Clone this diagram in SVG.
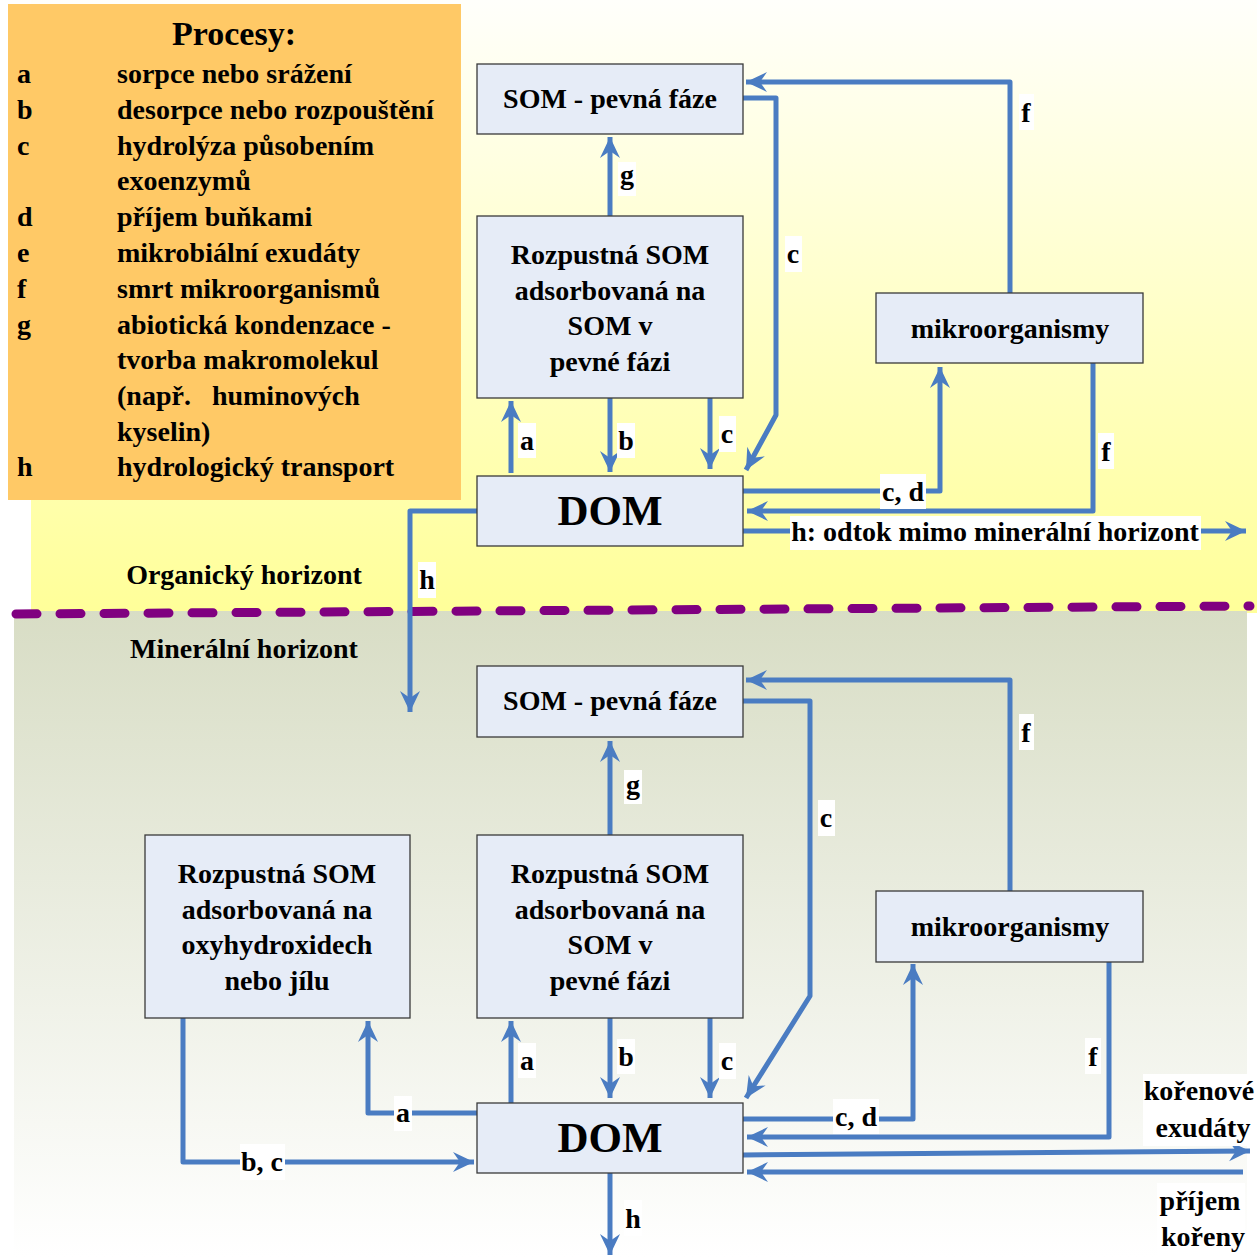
<svg xmlns="http://www.w3.org/2000/svg" width="1257" height="1257" viewBox="0 0 1257 1257">
  <defs>
    <linearGradient id="organic" x1="0" y1="0" x2="0" y2="1">
      <stop offset="0" stop-color="#FFFFFB"/>
      <stop offset="0.55" stop-color="#FFFFC4"/>
      <stop offset="1" stop-color="#FFFF99"/>
    </linearGradient>
    <linearGradient id="mineral" x1="0" y1="0" x2="0" y2="1">
      <stop offset="0" stop-color="#D8DDC5"/>
      <stop offset="1" stop-color="#FFFFFF"/>
    </linearGradient>
    <marker id="arr" markerUnits="userSpaceOnUse" markerWidth="24" markerHeight="24" viewBox="-22 -12 24 24" refX="0" refY="0" orient="auto">
      <path d="M0,0 L-21,-10 L-14,0 L-21,10 Z" fill="#4A7CC2"/>
    </marker>
    <style>
      text { font-family: "Liberation Serif", "Times New Roman", serif; font-weight: bold; fill: #000; }
      .node rect { fill: #E6ECF7; stroke: #3A3A3A; stroke-width: 1.3; }
      .nt { font-size: 28px; text-anchor: middle; }
      .big { font-size: 43px; text-anchor: middle; }
      .conn path { fill: none; stroke: #4A7CC2; stroke-width: 5; stroke-linejoin: round; }
      .conn .arrow { marker-end: url(#arr); }
      .lbl rect { fill: #FFFFFF; }
      .lbl text { font-size: 28px; text-anchor: middle; }
      .leg { font-size: 28px; }
      .hz { font-size: 28px; text-anchor: middle; }
    </style>
  </defs>

  <!-- horizon backgrounds -->
  <rect x="31" y="0" width="1226" height="613" fill="url(#organic)"/>
  <rect x="14" y="611" width="1233" height="646" fill="url(#mineral)"/>

  <!-- boundary between horizons -->
  <path d="M16,614 L1250,606" fill="none" stroke="#800080" stroke-width="9" stroke-linecap="round" stroke-dasharray="21 23"/>

  <text class="hz" x="244" y="584">Organický horizont</text>
  <text class="hz" x="244" y="658">Minerální horizont</text>

  <!-- process legend -->
  <g id="legend">
    <rect x="8" y="4" width="453" height="496" fill="#FFC966"/>
    <text x="234" y="45" font-size="34" text-anchor="middle">Procesy:</text>
    <g class="leg">
      <text x="17" y="83">a</text><text x="117" y="83">sorpce nebo srážení</text>
      <text x="17" y="119">b</text><text x="117" y="119">desorpce nebo rozpouštění</text>
      <text x="17" y="155">c</text><text x="117" y="155">hydrolýza působením</text>
      <text x="117" y="190">exoenzymů</text>
      <text x="17" y="226">d</text><text x="117" y="226">příjem buňkami</text>
      <text x="17" y="262">e</text><text x="117" y="262">mikrobiální exudáty</text>
      <text x="17" y="298">f</text><text x="117" y="298">smrt mikroorganismů</text>
      <text x="17" y="334">g</text><text x="117" y="334">abiotická kondenzace -</text>
      <text x="117" y="369">tvorba makromolekul</text>
      <text x="117" y="405" xml:space="preserve">(např.   huminových</text>
      <text x="117" y="441">kyselin)</text>
      <text x="17" y="476">h</text><text x="117" y="476">hydrologický transport</text>
    </g>
  </g>

  <!-- connectors -->
  <g id="connectors" class="conn">
    <!-- organic horizon -->
    <path class="arrow" d="M610,216 V137"/>
    <path class="arrow" d="M511,473 V401"/>
    <path class="arrow" d="M610,398 V472"/>
    <path class="arrow" d="M710,398 V469"/>
    <path class="arrow" d="M743,98 H776 V415 L746,470"/>
    <path class="arrow" d="M1010,293 V82 H746"/>
    <path class="arrow" d="M743,491 H940 V367"/>
    <path class="arrow" d="M1093,363 V511 H747"/>
    <path class="arrow" d="M743,531 H1246"/>
    <path class="arrow" d="M477,511 H410 V712"/>
    <!-- mineral horizon -->
    <path class="arrow" d="M610,835 V741"/>
    <path class="arrow" d="M743,701 H810 V996 L746,1098"/>
    <path class="arrow" d="M1010,891 V680 H746"/>
    <path class="arrow" d="M511,1103 V1021"/>
    <path class="arrow" d="M610,1018 V1098"/>
    <path class="arrow" d="M710,1018 V1098"/>
    <path class="arrow" d="M743,1119 H913 V964"/>
    <path class="arrow" d="M1109,962 V1137 H747"/>
    <path class="arrow" d="M743,1155 L1250,1151"/>
    <path class="arrow" d="M1243,1172 H747"/>
    <path class="arrow" d="M610,1173 V1255"/>
    <path class="arrow" d="M477,1113 H368 V1021"/>
    <path class="arrow" d="M183,1018 V1162 H474"/>
  </g>

  <!-- connector labels -->
  <g id="labels" class="lbl">
    <rect x="618" y="162" width="18" height="34"/><text x="627" y="184">g</text>
    <rect x="518" y="423" width="18" height="35"/><text x="527" y="450">a</text>
    <rect x="617" y="423" width="18" height="35"/><text x="626" y="450">b</text>
    <rect x="719" y="416" width="17" height="36"/><text x="727" y="443">c</text>
    <rect x="785" y="236" width="17" height="36"/><text x="793" y="263">c</text>
    <rect x="1019" y="94" width="15" height="36"/><text x="1026" y="122">f</text>
    <rect x="880" y="474" width="46" height="35"/><text x="903" y="501">c, d</text>
    <rect x="1098" y="433" width="16" height="36"/><text x="1106" y="461">f</text>
    <rect x="790" y="516" width="411" height="34"/><text x="995" y="541">h: odtok mimo minerální horizont</text>
    <rect x="418" y="562" width="18" height="36"/><text x="427" y="589">h</text>

    <rect x="624" y="770" width="18" height="34"/><text x="633" y="794">g</text>
    <rect x="818" y="800" width="17" height="36"/><text x="826" y="827">c</text>
    <rect x="1019" y="714" width="15" height="36"/><text x="1026" y="742">f</text>
    <rect x="518" y="1043" width="18" height="35"/><text x="527" y="1070">a</text>
    <rect x="617" y="1039" width="18" height="35"/><text x="626" y="1066">b</text>
    <rect x="719" y="1043" width="17" height="36"/><text x="727" y="1070">c</text>
    <rect x="833" y="1099" width="46" height="35"/><text x="856" y="1126">c, d</text>
    <rect x="1085" y="1038" width="16" height="36"/><text x="1093" y="1066">f</text>
    <rect x="394" y="1096" width="18" height="35"/><text x="403" y="1122">a</text>
    <rect x="240" y="1144" width="45" height="36"/><text x="262" y="1171">b, c</text>
    <rect x="624" y="1200" width="18" height="36"/><text x="633" y="1228">h</text>
    <rect x="1143" y="1074" width="114" height="72"/>
    <text x="1199" y="1100">kořenové</text>
    <text x="1203" y="1137">exudáty</text>
    <rect x="1157" y="1183" width="88" height="74"/>
    <text x="1200" y="1210">příjem</text>
    <text x="1203" y="1246">kořeny</text>
  </g>

  <!-- organic horizon nodes -->
  <g id="som-solid-organic" class="node">
    <rect x="477" y="64" width="266" height="70"/>
    <text class="nt" x="610" y="108">SOM - pevná fáze</text>
  </g>
  <g id="soluble-som-organic" class="node">
    <rect x="477" y="216" width="266" height="182"/>
    <text class="nt" x="610" y="264">Rozpustná SOM</text>
    <text class="nt" x="610" y="300">adsorbovaná na</text>
    <text class="nt" x="610" y="335">SOM v</text>
    <text class="nt" x="610" y="371">pevné fázi</text>
  </g>
  <g id="dom-organic" class="node">
    <rect x="477" y="476" width="266" height="70"/>
    <text class="big" x="610" y="525">DOM</text>
  </g>
  <g id="microbes-organic" class="node">
    <rect x="876" y="293" width="267" height="70"/>
    <text class="nt" x="1010" y="338">mikroorganismy</text>
  </g>

  <!-- mineral horizon nodes -->
  <g id="som-solid-mineral" class="node">
    <rect x="477" y="666" width="266" height="71"/>
    <text class="nt" x="610" y="710">SOM - pevná fáze</text>
  </g>
  <g id="soluble-som-mineral" class="node">
    <rect x="477" y="835" width="266" height="183"/>
    <text class="nt" x="610" y="883">Rozpustná SOM</text>
    <text class="nt" x="610" y="919">adsorbovaná na</text>
    <text class="nt" x="610" y="954">SOM v</text>
    <text class="nt" x="610" y="990">pevné fázi</text>
  </g>
  <g id="soluble-som-oxy" class="node">
    <rect x="145" y="835" width="265" height="183"/>
    <text class="nt" x="277" y="883">Rozpustná SOM</text>
    <text class="nt" x="277" y="919">adsorbovaná na</text>
    <text class="nt" x="277" y="954">oxyhydroxidech</text>
    <text class="nt" x="277" y="990">nebo jílu</text>
  </g>
  <g id="dom-mineral" class="node">
    <rect x="477" y="1103" width="266" height="70"/>
    <text class="big" x="610" y="1152">DOM</text>
  </g>
  <g id="microbes-mineral" class="node">
    <rect x="876" y="891" width="267" height="71"/>
    <text class="nt" x="1010" y="936">mikroorganismy</text>
  </g>
</svg>
